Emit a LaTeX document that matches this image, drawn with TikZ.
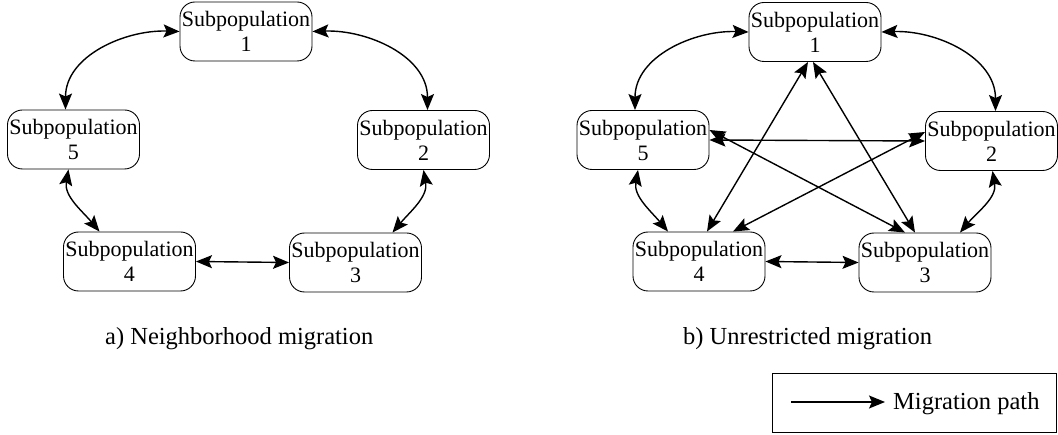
\documentclass[tikz,border=0pt]{standalone}
\usepackage{fontspec}
\setmainfont{Liberation Serif}
\usetikzlibrary{arrows.meta}
\begin{document}
\begin{tikzpicture}[x=1pt,y=-1pt,
  >={Stealth[length=16pt,width=13pt,inset=3pt]},
  subpop/.style={draw,line width=0.9pt,rounded corners=15pt,minimum width=132pt,minimum height=59pt,inner sep=0pt,align=center,font=\fontsize{22}{25}\selectfont},
  mig/.style={line width=1.4pt,<->},
  captext/.style={font=\fontsize{24.5}{27}\selectfont,inner sep=0pt,anchor=base west}]
\useasboundingbox (0,0) rectangle (1058,435);
% ---- a) ----
\node[subpop] (a1) at (246,31.5) {Subpopulation\\1};
\node[subpop] (a2) at (423.5,140) {Subpopulation\\2};
\node[subpop] (a3) at (355.5,262.5) {Subpopulation\\3};
\node[subpop] (a4) at (129.5,261.5) {Subpopulation\\4};
\node[subpop] (a5) at (73.5,139.5) {Subpopulation\\5};
\draw[mig] (a1.west) to[out=178,in=90] ([xshift=-8pt]a5.north);
\draw[mig] (a1.east) to[out=2,in=90] ([xshift=4pt]a2.north);
\draw[mig] ([xshift=-5pt]a5.south) to[out=-100,in=130] ([xshift=-30pt]a4.north);
\draw[mig] ([xshift=0pt]a2.south) to[out=-80,in=50] ([xshift=37pt]a3.north);
\draw[mig] (a4.east) -- (a3.west);
\node[captext] (capa) at (105,345) {a) Neighborhood migration};
% ---- b) ----
\node[subpop] (b1) at (815,32) {Subpopulation\\1};
\node[subpop] (b2) at (991.5,141) {Subpopulation\\2};
\node[subpop] (b3) at (925,262.5) {Subpopulation\\3};
\node[subpop] (b4) at (699,261.5) {Subpopulation\\4};
\node[subpop] (b5) at (643,140) {Subpopulation\\5};
\draw[mig] (b1.west) to[out=178,in=90] ([xshift=-8pt]b5.north);
\draw[mig] (b1.east) to[out=2,in=90] ([xshift=4pt]b2.north);
\draw[mig] ([xshift=-5pt]b5.south) to[out=-100,in=130] ([xshift=-31pt]b4.north);
\draw[mig] ([xshift=1pt]b2.south) to[out=-80,in=50] ([xshift=35pt]b3.north);
\draw[mig] (b4.east) -- (b3.west);
\draw[mig] (b5.east) -- (b2.west);
\draw[mig] ([xshift=-7pt]b1.south) -- ([xshift=8pt]b4.north);
\draw[mig] ([xshift=-2pt]b1.south) -- ([xshift=-10pt]b3.north);
\draw[mig] ([yshift=10pt]b5.east) -- ([xshift=-20pt]b3.north);
\draw[mig] ([yshift=9pt]b2.west) -- ([xshift=34pt]b4.north);
\node[captext] (capb) at (683,345) {b) Unrestricted migration};
% ---- legend ----
\node[draw,line width=0.9pt,minimum width=284pt,minimum height=59pt,inner sep=0pt] (legend) at (914,402.5) {};
\coordinate (lgs) at (791,402);
\node[captext] (lgt) at (893,410) {Migration path};
\draw[line width=1.4pt,->] (lgs) -- ([xshift=-8pt]lgt.west |- lgs);
\end{tikzpicture}
\end{document}
